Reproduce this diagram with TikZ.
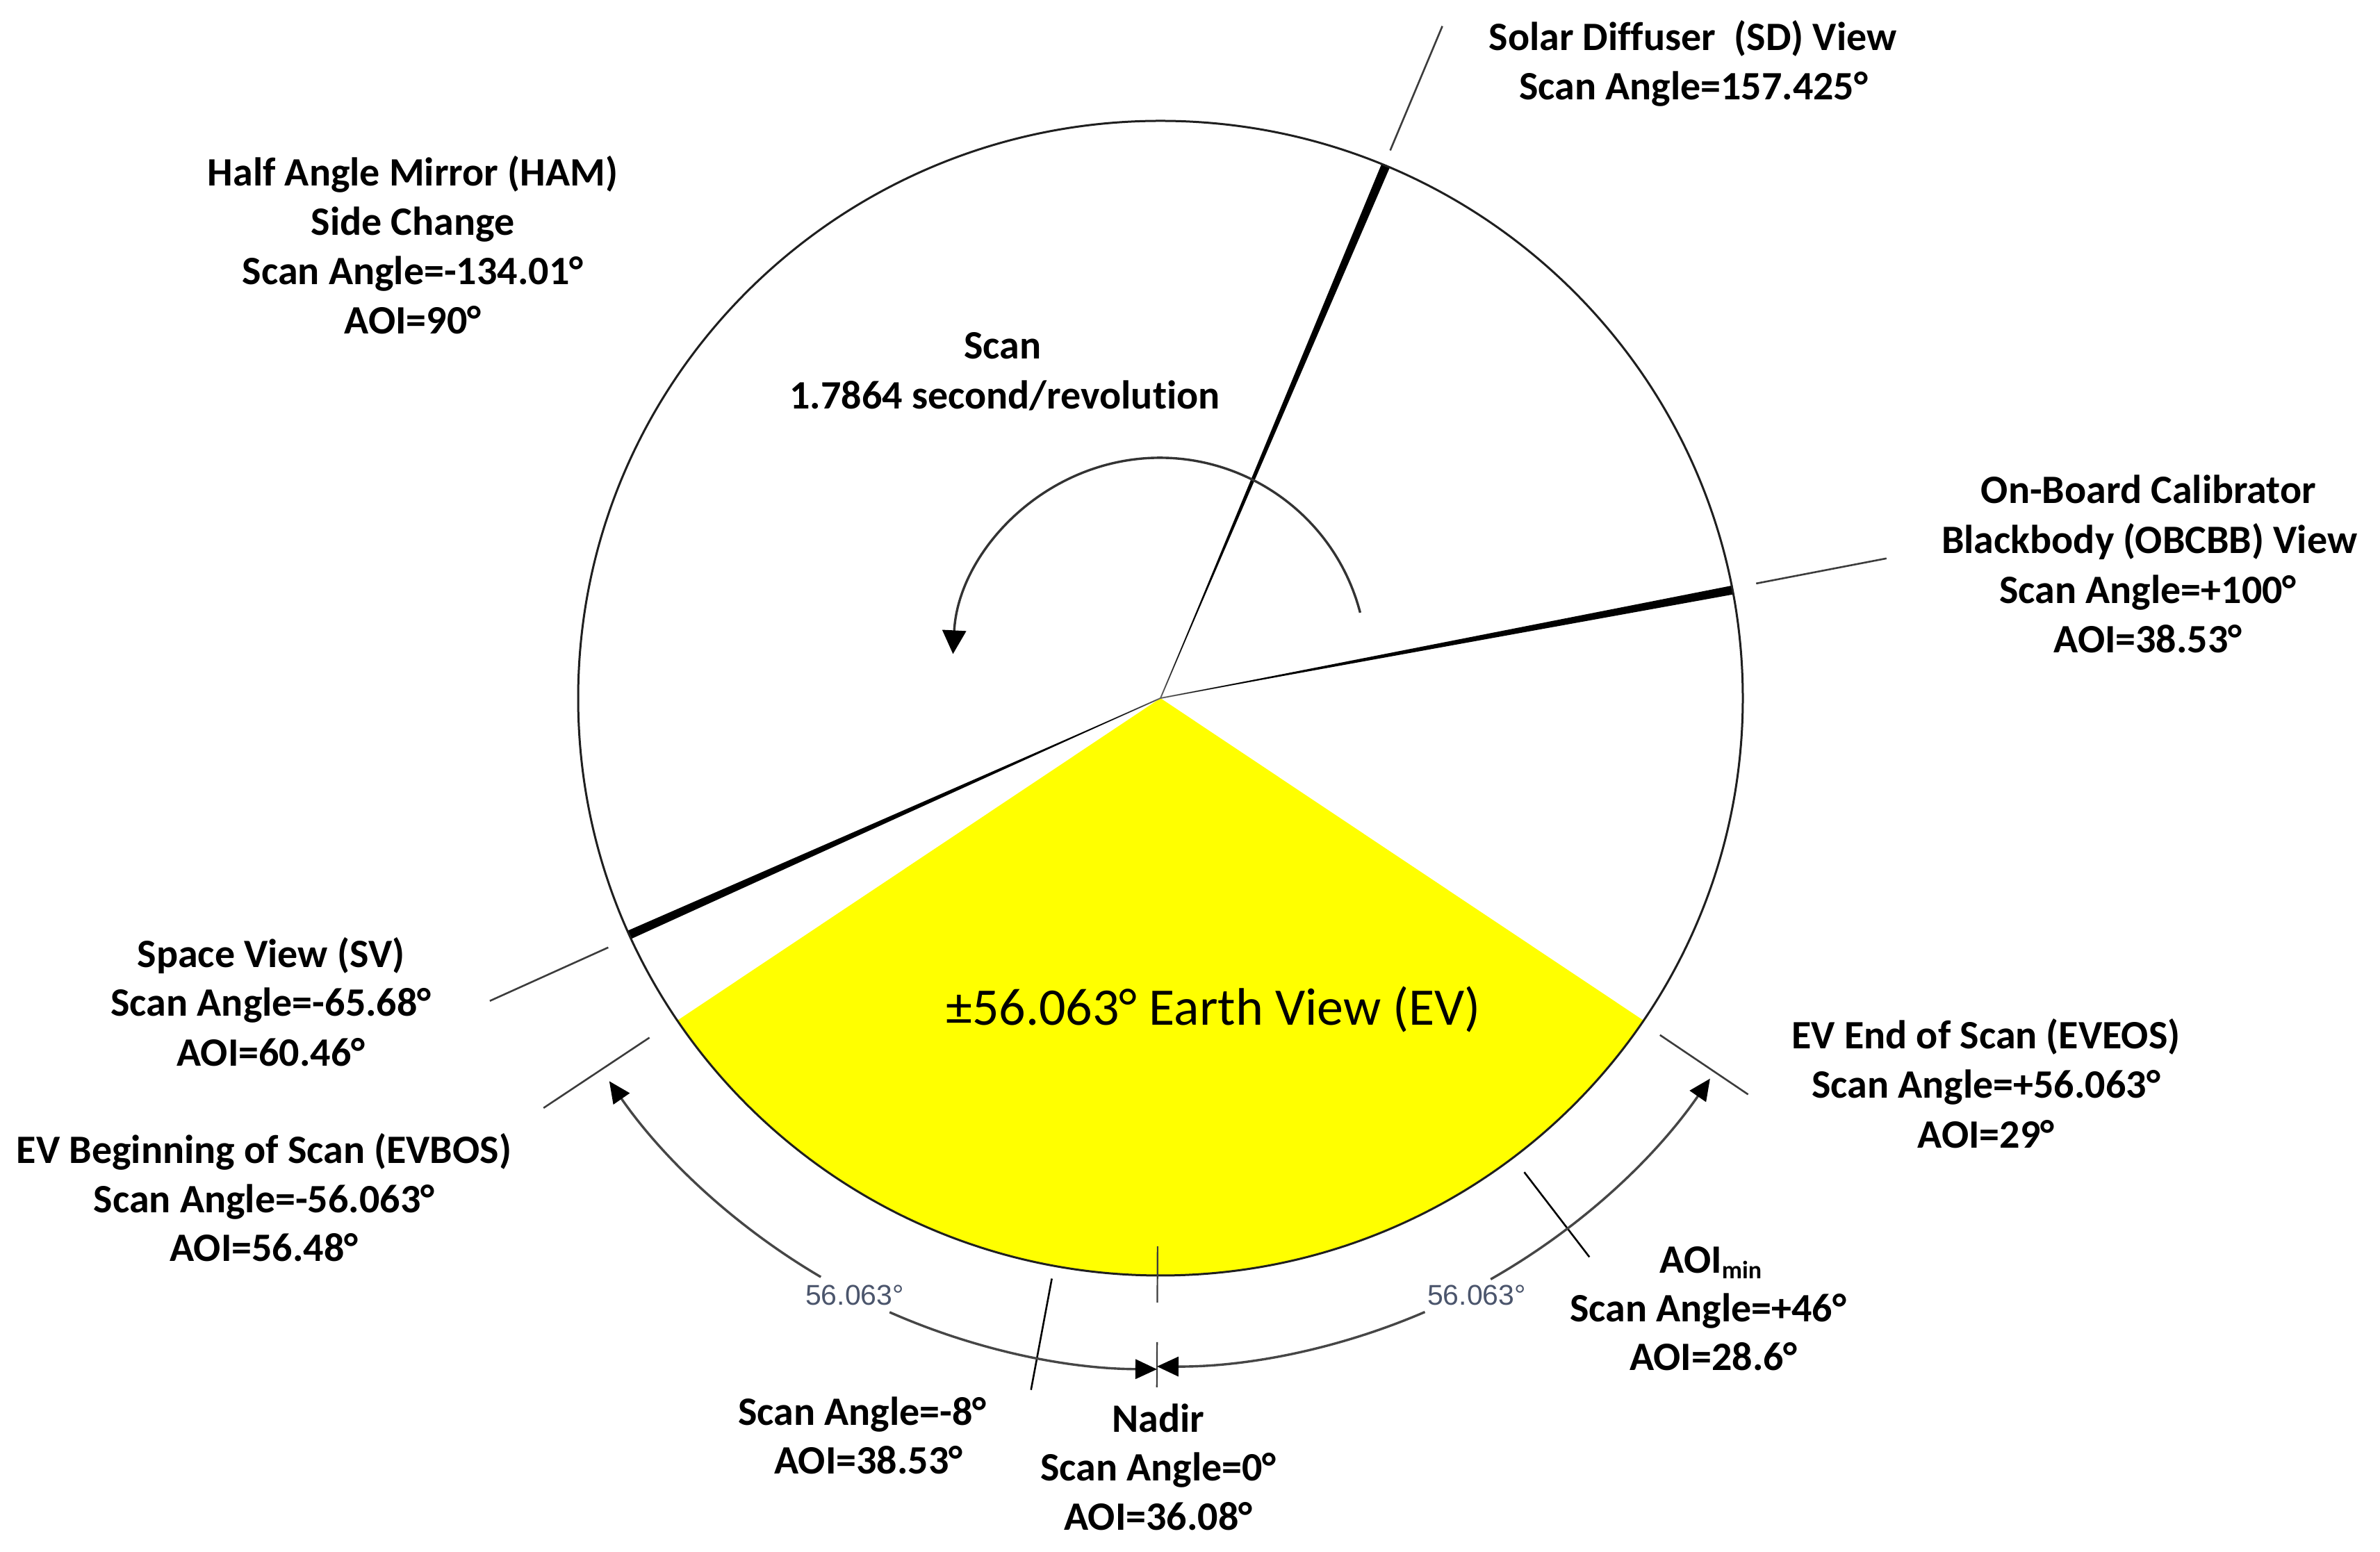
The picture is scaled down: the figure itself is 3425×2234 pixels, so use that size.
\documentclass[tikz,border=0pt]{standalone}
\usepackage{fontspec}
\setmainfont{Carlito}[Ligatures=NoCommon]
\newfontfamily\arialfont{Liberation Sans}
\usetikzlibrary{calc,arrows.meta}
\definecolor{tickgray}{RGB}{60,60,60}
\definecolor{measgray}{RGB}{70,70,70}
\definecolor{measlabel}{RGB}{75,85,108}
\definecolor{evyellow}{RGB}{255,255,0}
\begin{document}
\begin{tikzpicture}[x=1pt,y=1pt,
  lbl/.style={font=\fontsize{58}{71}\selectfont\bfseries, anchor=base, inner sep=0pt},
  evlbl/.style={font=\fontsize{76}{90}\selectfont, anchor=base, inner sep=0pt},
  mlab/.style={font=\arialfont\fontsize{41}{48}\selectfont, text=measlabel, anchor=base, inner sep=0pt},
  circ/.style={line width=3pt, draw=black!88},
  tickline/.style={line width=2.6pt, draw=tickgray},
  leader/.style={line width=2.6pt, draw=black},
  meas/.style={line width=3.4pt, draw=measgray},
  scanarc/.style={line width=3.4pt, draw=black!80},
  tipA/.tip={Triangle[length=31pt,width=28pt,color=black]},
  tipB/.tip={Triangle[length=34pt,width=34pt,color=black]}]
\useasboundingbox (0,0) rectangle (3425,2234);
\fill[white] (0,0) rectangle (3425,2234);
\coordinate (C) at (1670,1229);
% Earth view sector
\fill[evyellow] (C) -- ($(C)+(-146.06:838 and 831)$)
  arc[start angle=-146.06, end angle=-33.94, x radius=838, y radius=831] -- cycle;
% view rays (wedges)
\foreach \a in {67.25,10.8,-155.8}{
  \draw[line width=2pt, draw=black!55] (C) -- ($(C)+(\a:838 and 831)$);
  \fill[black] (C) -- ($(C)+({\a+0.44}:838 and 831)$) -- ($(C)+({\a-0.44}:838 and 831)$) -- cycle;
}
% scan circle
\draw[circ] (C) ellipse[x radius=838, y radius=831];
% outer ticks
\foreach \a/\ri/\ro in {67.25/855/1049, 10.9/873/1064, -155.7/872/1059, -146.4/883/1066, -34/867/1020}{
  \draw[tickline] ($(C)+(\a:\ri)$) -- ($(C)+(\a:\ro)$);
}
% nadir tick
\draw[tickline, line width=2.2pt] ($(C)+(-90.3:789)$) -- ($(C)+(-90.3:870)$);
\draw[tickline, line width=2.2pt] ($(C)+(-90.3:927)$) -- ($(C)+(-90.3:992)$);
% leaders
\coordinate (l8a) at ($(C)+(-100.6:850)$);
\coordinate (l8b) at ($(C)+(-100.6:1013)$);
\coordinate (lma) at ($(C)+(-52.5:860)$);
\coordinate (lmb) at ($(C)+(-52.5:1014)$);
\draw[leader] (l8a) -- (l8b);
\draw[leader] (lma) -- (lmb);
% measurement arcs
\draw[meas, -tipA] ($(C)+(-120.4:966)$) arc[start angle=-120.4, end angle=-145.2, radius=966];
\draw[meas, -tipA] ($(C)+(-113.8:966)$) arc[start angle=-113.8, end angle=-90.3, radius=966];
\draw[meas, -tipA] ($(C)+(-66.7:962)$) arc[start angle=-66.7, end angle=-90.3, radius=962];
\draw[meas, -tipA] ($(C)+(-60.4:962)$) arc[start angle=-60.4, end angle=-34.7, radius=962];
\node[mlab] (mleft) at (1230,355) {56.063°};
\node[mlab] (mright) at (2125,355) {56.063°};
% scan rotation arrow
\coordinate (S0) at (1669,1277);
\draw[scanarc, -tipB] ($(S0)+(14.6:298)$) arc[start angle=14.6, end angle=177, radius=298];
% labels
\node[lbl] (ham1) at (594,1966) {Half Angle Mirror (HAM)};
\node[lbl] (ham2) at (594,1895) {Side Change};
\node[lbl] (ham3) at (594,1824) {Scan Angle=-134.01°};
\node[lbl] (ham4) at (594,1753) {AOI=90°};
\node[lbl] (sd1) at (2436,2161) {Solar Diffuser\ \ (SD) View};
\node[lbl] (sd2) at (2437,2090) {Scan Angle=157.425°};
\node[lbl] (scan1) at (1443,1717) {Scan};
\node[lbl] (scan2) at (1446,1645) {1.7864 second/revolution};
\node[lbl] (ob1) at (3092,1509) {On-Board Calibrator};
\node[lbl] (ob2) at (3093,1437) {Blackbody (OBCBB) View};
\node[lbl] (ob3) at (3091,1365) {Scan Angle=+100°};
\node[lbl] (ob4) at (3091,1294) {AOI=38.53°};
\node[lbl] (sv1) at (390,841) {Space View (SV)};
\node[lbl] (sv2) at (390,771) {Scan Angle=-65.68°};
\node[lbl] (sv3) at (390,699) {AOI=60.46°};
\node[lbl] (bos1) at (380,559) {EV Beginning of Scan (EVBOS)};
\node[lbl] (bos2) at (380,488) {Scan Angle=-56.063°};
\node[lbl] (bos3) at (380,418) {AOI=56.48°};
\node[lbl] (eos1) at (2858,724) {EV End of Scan (EVEOS)};
\node[lbl] (eos2) at (2858,653) {Scan Angle=+56.063°};
\node[lbl] (eos3) at (2858,581) {AOI=29°};
\node[lbl] (min1) at (2462,401) {AOI\raisebox{-8pt}{\fontsize{36}{36}\selectfont min}};
\node[lbl] (min2) at (2458,331) {Scan Angle=+46°};
\node[lbl] (min3) at (2466,261) {AOI=28.6°};
\node[lbl] (m8a) at (1241,182) {Scan Angle=-8°};
\node[lbl] (m8b) at (1250,112) {AOI=38.53°};
\node[lbl] (nad1) at (1667,172) {Nadir};
\node[lbl] (nad2) at (1667,102) {Scan Angle=0°};
\node[lbl] (nad3) at (1667,31) {AOI=36.08°};
\node[evlbl] (ev) at (1746,758) {±56.063° Earth View (EV)};
\end{tikzpicture}
\end{document}
